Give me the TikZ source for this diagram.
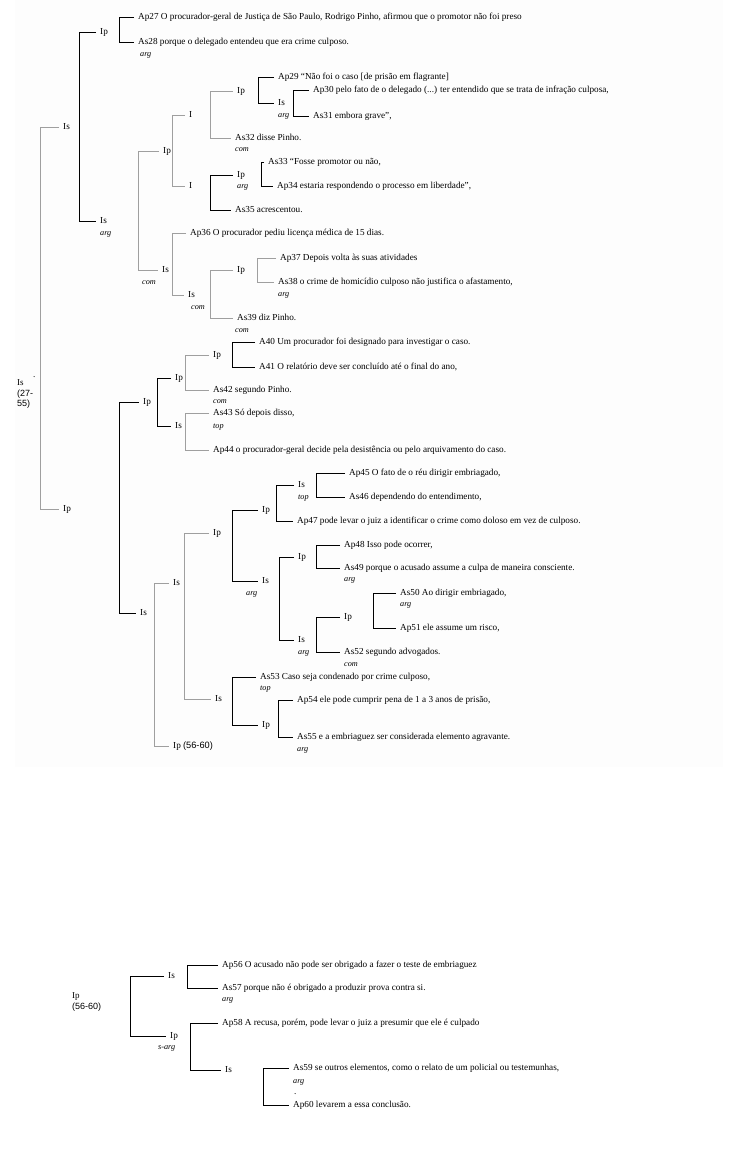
\documentclass[tikz,border=0pt]{standalone}
\usepackage{fontspec}
\setmainfont{Liberation Serif}
\setsansfont{Liberation Sans}
\tikzset{
	txt/.style={anchor=west, inner sep=0pt, font=\fontsize{9.2}{10}\selectfont, text height=6pt, text depth=2pt},
	papel/.style={anchor=west, inner sep=0pt, font=\fontsize{8.2}{9}\selectfont\itshape, text height=5pt, text depth=1.5pt},
	raiz/.style={anchor=west, inner sep=0pt, align=left, font=\fontsize{9}{10.5}\selectfont},
	linha/.style={line width=0.8pt, black},
	linhacinza/.style={line width=0.8pt, gray!75},
}
\newcommand{\chave}[4][linha]{%
	\draw[#1] ([xshift=-4pt]#3.west) -- (#3.west -| #2,0) -- (#4.west -| #2,0) -- ([xshift=-4pt]#4.west);}

\begin{document}
\begin{tikzpicture}[x=1pt, y=-1pt]
	\useasboundingbox (0,0) rectangle (754,1171);
	\fill[black!0.6] (15,0) rectangle (723,767);
	\begin{scope}
		\node[raiz] (r0) at (17,394) {Is\\{\sffamily (27-}\\{\sffamily 55)}};
		\node[txt] (ponto1) at (33,375) {.};

		% Is / Ip / I
		\foreach \n/\x/\y/\r in {
			n1/63/127/Is, n2/63/509/Ip,
			a1/100/32/Ip, a2/100/221/Is,
			b1/163/151/Ip, b2/162/270/Is, b3/188/295/Is,
			c1/189/115/I, c2/189/186/I,
			d1/237/91/Ip, d2/237/175/Ip, d3/237/270/Ip,
			e1/278/103/Is,
			f1/143/402/Ip, f2/140/613/Is,
			g1/175/378/Ip, g2/175/426/Is, h1/213/355/Ip,
			k1/173/583/Is, m1/213/533/Ip, m2/215/699/Is,
			p1/262/510/Ip, p2/262/581/Is, p3/262/725/Ip,
			q1/298/485/Is, q2/298/557/Ip, q3/298/640/Is, q4/344/617/Ip,
			s1/168/976/Is, s2/170/1036/Ip, s3/225/1070/Is
		} {
			\node[txt] (\n) at (\x,\y) {\r};
		}
		\node[txt] (k2) at (173,746) {Ip {\sffamily (56-60)}};

		% arg / com / top
		\foreach \n/\x/\y/\r in {
			o28/140/55/arg, oa2/100/234/arg, o32/235/150/com, oe1/278/116/arg,
			od2/237/187/arg, ob2/142/283/com, ob3/191/308/com, o38/278/295/arg,
			o39/235/331/com, o42/213/402/com, o43/213/427/top,
			oq1/298/498/top, op2/246/594/arg, o49/344/580/arg, o50/400/605/arg,
			oq3/298/653/arg, o52/344/665/com, o53/260/689/top, o55/297/750/arg,
			o57/222/1000/arg, os2/158/1048/s-arg, o59/293/1082/arg
		} {
			\node[papel] (\n) at (\x,\y) {\r};
		}

		\node[txt] (t27) at (138,17) {Ap27 O procurador-geral de Justiça de São Paulo, Rodrigo Pinho, afirmou que o promotor não foi preso};
		\node[txt] (t28) at (138,42) {As28 porque o delegado entendeu que era crime culposo.};
		\node[txt] (t29) at (278,77) {Ap29 “Não foi o caso [de prisão em flagrante]};
		\node[txt] (t30) at (313,90) {Ap30 pelo fato de o delegado (...) ter entendido que se trata de infração culposa,};
		\node[txt] (t31) at (313,116) {As31 embora grave”,};
		\node[txt] (t32) at (235,138) {As32 disse Pinho.};
		\node[txt] (t33) at (268,162) {As33 “Fosse promotor ou não,};
		\node[txt] (t34) at (277,186) {Ap34 estaria respondendo o processo em liberdade”,};
		\node[txt] (t35) at (235,210) {As35 acrescentou.};
		\node[txt] (t36) at (190,233) {Ap36 O procurador pediu licença médica de 15 dias.};
		\node[txt] (t37) at (280,258) {Ap37 Depois volta às suas atividades};
		\node[txt] (t38) at (278,282) {As38 o crime de homicídio culposo não justifica o afastamento,};
		\node[txt] (t39) at (237,318) {As39 diz Pinho.};
		\node[txt] (t40) at (259,342) {A40 Um procurador foi designado para investigar o caso.};
		\node[txt] (t41) at (259,367) {A41 O relatório deve ser concluído até o final do ano,};
		\node[txt] (t42) at (213,390) {As42 segundo Pinho.};
		\node[txt] (t43) at (213,413) {As43 Só depois disso,};
		\node[txt] (t44) at (213,450) {Ap44 o procurador-geral decide pela desistência ou pelo arquivamento do caso.};
		\node[txt] (t45) at (349,473) {Ap45 O fato de o réu dirigir embriagado,};
		\node[txt] (t46) at (349,497) {As46 dependendo do entendimento,};
		\node[txt] (t47) at (297,521) {Ap47 pode levar o juiz a identificar o crime como doloso em vez de culposo.};
		\node[txt] (t48) at (344,545) {Ap48 Isso pode ocorrer,};
		\node[txt] (t49) at (344,568) {As49 porque o acusado assume a culpa de maneira consciente.};
		\node[txt] (t50) at (400,593) {As50 Ao dirigir embriagado,};
		\node[txt] (t51) at (400,628) {Ap51 ele assume um risco,};
		\node[txt] (t52) at (344,652) {As52 segundo advogados.};
		\node[txt] (t53) at (260,677) {As53 Caso seja condenado por crime culposo,};
		\node[txt] (t54) at (297,700) {Ap54 ele pode cumprir pena de 1 a 3 anos de prisão,};
		\node[txt] (t55) at (297,737) {As55 e a embriaguez ser considerada elemento agravante.};

		% parte de baixo (56-60)
		\node[raiz] (r1) at (72,1002) {Ip\\{\sffamily (56-60)}};
		\node[txt] (t56) at (222,965) {Ap56 O acusado não pode ser obrigado a fazer o teste de embriaguez};
		\node[txt] (t57) at (222,988) {As57 porque não é obrigado a produzir prova contra si.};
		\node[txt] (t58) at (222,1023) {Ap58 A recusa, porém, pode levar o juiz a presumir que ele é culpado};
		\node[txt] (t59) at (293,1068) {As59 se outros elementos, como o relato de um policial ou testemunhas,};
		\node[txt] (ponto2) at (294,1092) {.};
		\node[txt] (t60) at (293,1105) {Ap60 levarem a essa conclusão.};

		% chaves
		\chave[linhacinza]{40}{n1}{n2}
		\chave{79}{a1}{a2}
		\chave{119}{t27}{t28}
		\chave[linhacinza]{138}{b1}{b2}
		\chave[linhacinza]{172}{c1}{c2}
		\chave[linhacinza]{210}{d1}{t32}
		\chave{258}{t29}{e1}
		\chave{293}{t30}{t31}
		\chave{210}{d2}{t35}
		\chave{261}{t33}{t34}
		\chave[linhacinza]{172}{t36}{b3}
		\chave[linhacinza]{210}{d3}{t39}
		\chave[linhacinza]{257}{t37}{t38}
		\chave{119}{f1}{f2}
		\chave{157}{g1}{g2}
		\chave[linhacinza]{185}{h1}{t42}
		\chave{232}{t40}{t41}
		\chave[linhacinza]{185}{t43}{t44}
		\chave[linhacinza]{154}{k1}{k2}
		\chave[linhacinza]{184}{m1}{m2}
		\chave{232}{p1}{p2}
		\chave{276}{q1}{t47}
		\chave{316}{t45}{t46}
		\chave{279}{q2}{q3}
		\chave{316}{t48}{t49}
		\chave{316}{q4}{t52}
		\chave{373}{t50}{t51}
		\chave{232}{t53}{p3}
		\chave{278}{t54}{t55}
		\chave{130}{s1}{s2}
		\chave{187}{t56}{t57}
		\chave{190}{t58}{s3}
		\chave{263}{t59}{t60}
	\end{scope}
\end{tikzpicture}
\end{document}
